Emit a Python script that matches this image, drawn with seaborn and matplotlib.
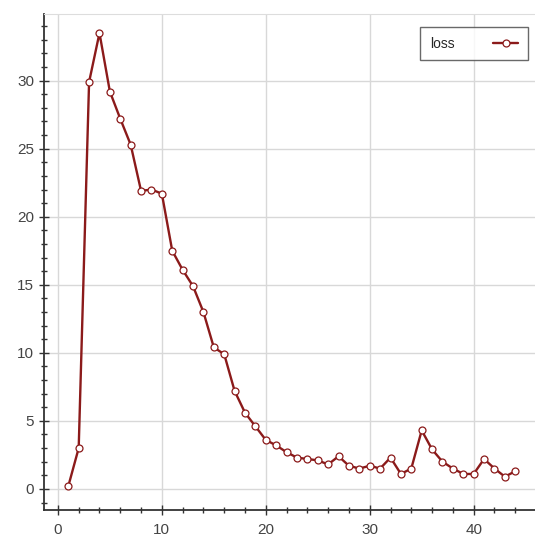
import numpy as np
import pandas as pd
import matplotlib
matplotlib.use("Agg")
import matplotlib.pyplot as plt
from matplotlib.ticker import MultipleLocator
import seaborn as sns

epochs = list(range(1, 45))
loss = [0.2, 3.0, 29.9, 33.5, 29.2, 27.2, 25.3, 21.9, 22.0, 21.7,
        17.5, 16.1, 14.9, 13.0, 10.4, 9.9, 7.2, 5.6, 4.6, 3.6,
        3.2, 2.7, 2.3, 2.2, 2.1, 1.8, 2.4, 1.7, 1.5, 1.7,
        1.5, 2.3, 1.1, 1.5, 4.3, 2.9, 2.0, 1.5, 1.1, 1.1,
        2.2, 1.5, 0.9, 1.3]
series_name = "loss"

df = pd.DataFrame({"epoch": epochs, "value": loss, "series": series_name})

sns.set_style("white")
plt.rcParams['font.family'] = ['Liberation Sans', 'DejaVu Sans']

fig = plt.figure(figsize=(5.35, 5.38), dpi=100)
ax = fig.add_axes([0.082, 0.052, 0.918, 0.922])

color = "#8b1a1a"
sns.lineplot(data=df, x="epoch", y="value", hue="series", palette=[color],
             marker="o", markersize=5, markerfacecolor="white",
             markeredgecolor=color, markeredgewidth=0.9, linewidth=1.7, ax=ax)

ax.set_xlim(-1.35, 45.9)
ax.set_ylim(-1.55, 34.9)
ax.xaxis.set_major_locator(MultipleLocator(10))
ax.xaxis.set_minor_locator(MultipleLocator(2))
ax.yaxis.set_major_locator(MultipleLocator(5))
ax.yaxis.set_minor_locator(MultipleLocator(1))
ax.grid(True, which="major", color="#d8d8d8", linewidth=1.0)
ax.set_xlabel("")
ax.set_ylabel("")
ax.tick_params(which="both", left=True, bottom=True)
ax.tick_params(which="major", direction="inout", length=7, width=1, labelsize=11,
               colors="#333333", labelcolor="#444444")
ax.tick_params(axis="x", which="major", pad=6)
ax.tick_params(which="minor", direction="inout", length=4, width=1, colors="#333333")
for s in ["left", "bottom"]:
    ax.spines[s].set_color("#333333")
    ax.spines[s].set_linewidth(1.3)
ax.spines["top"].set_color("#dddddd")
ax.spines["right"].set_visible(False)

leg = ax.legend(loc="upper right", bbox_to_anchor=(0.986, 0.974), frameon=True, fancybox=False,
                fontsize=10, markerfirst=False, handlelength=1.8, handletextpad=2.8,
                borderpad=0.7, borderaxespad=0)
leg.get_frame().set_edgecolor("#444444")
leg.get_frame().set_linewidth(1.0)

fig.savefig("out.png", dpi=100)
